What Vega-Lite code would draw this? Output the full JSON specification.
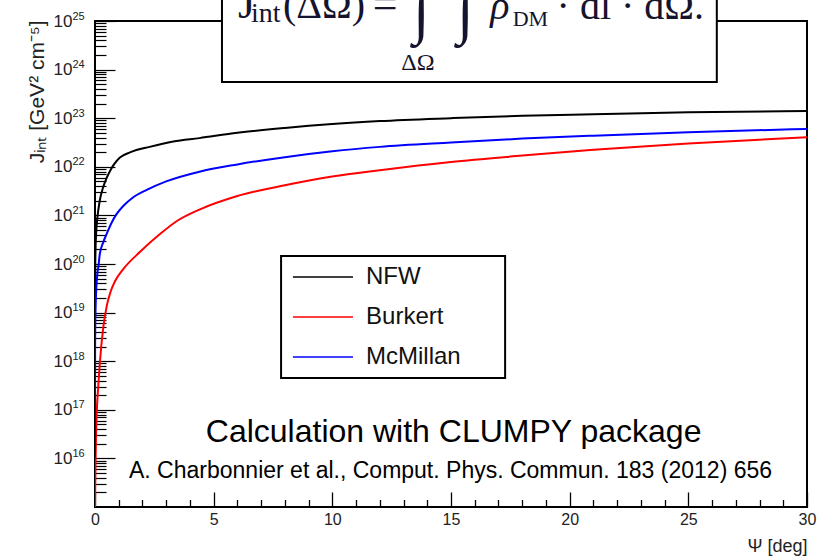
{
  "$schema": "https://vega.github.io/schema/vega-lite/v6.json",
  "width": 712,
  "height": 486,
  "autosize": {"type": "none"},
  "padding": {"left": 95, "top": 21, "right": 18, "bottom": 52},
  "background": "white",
  "config": {
    "view": {"stroke": "black", "strokeWidth": 2},
    "font": "Liberation Sans"
  },
  "resolve": {"axis": {"x": "independent", "y": "independent"}},
  "layer": [
    {
      "layer": [
        {
          "data": {"values": [
            {"profile":"NFW","psi":0.001,"J":7.94e18},
            {"profile":"NFW","psi":0.005,"J":3.98e19},
            {"profile":"NFW","psi":0.01,"J":8.91e19},
            {"profile":"NFW","psi":0.02,"J":1.78e20},
            {"profile":"NFW","psi":0.05,"J":4.47e20},
            {"profile":"NFW","psi":0.1,"J":8.91e20},
            {"profile":"NFW","psi":0.2,"J":2.0e21},
            {"profile":"NFW","psi":0.35,"J":3.89e21},
            {"profile":"NFW","psi":0.5,"J":6.03e21},
            {"profile":"NFW","psi":0.65,"J":8.51e21},
            {"profile":"NFW","psi":0.8,"J":1.12e22},
            {"profile":"NFW","psi":1.05,"J":1.55e22},
            {"profile":"NFW","psi":1.5,"J":2.0e22},
            {"profile":"NFW","psi":2.3,"J":2.57e22},
            {"profile":"NFW","psi":3.3,"J":3.31e22},
            {"profile":"NFW","psi":4.4,"J":3.89e22},
            {"profile":"NFW","psi":6,"J":5.01e22},
            {"profile":"NFW","psi":8,"J":6.31e22},
            {"profile":"NFW","psi":10,"J":7.59e22},
            {"profile":"NFW","psi":12,"J":8.71e22},
            {"profile":"NFW","psi":15,"J":1.0e23},
            {"profile":"NFW","psi":18,"J":1.12e23},
            {"profile":"NFW","psi":21,"J":1.2e23},
            {"profile":"NFW","psi":25,"J":1.32e23},
            {"profile":"NFW","psi":30,"J":1.41e23},
            {"profile":"Burkert","psi":0.0005,"J":1e15},
            {"profile":"Burkert","psi":0.02,"J":6.31e15},
            {"profile":"Burkert","psi":0.04,"J":2.51e16},
            {"profile":"Burkert","psi":0.07,"J":7.94e16},
            {"profile":"Burkert","psi":0.14,"J":3.16e17},
            {"profile":"Burkert","psi":0.21,"J":1e18},
            {"profile":"Burkert","psi":0.35,"J":5.01e18},
            {"profile":"Burkert","psi":0.5,"J":1.41e19},
            {"profile":"Burkert","psi":0.65,"J":2.63e19},
            {"profile":"Burkert","psi":0.85,"J":4.47e19},
            {"profile":"Burkert","psi":1.2,"J":7.94e19},
            {"profile":"Burkert","psi":1.9,"J":1.78e20},
            {"profile":"Burkert","psi":2.7,"J":3.98e20},
            {"profile":"Burkert","psi":3.5,"J":7.94e20},
            {"profile":"Burkert","psi":4.4,"J":1.32e21},
            {"profile":"Burkert","psi":6,"J":2.51e21},
            {"profile":"Burkert","psi":8,"J":4.17e21},
            {"profile":"Burkert","psi":10,"J":6.31e21},
            {"profile":"Burkert","psi":12,"J":8.51e21},
            {"profile":"Burkert","psi":15,"J":1.26e22},
            {"profile":"Burkert","psi":18,"J":1.7e22},
            {"profile":"Burkert","psi":21,"J":2.24e22},
            {"profile":"Burkert","psi":25,"J":3.02e22},
            {"profile":"Burkert","psi":30,"J":4.07e22},
            {"profile":"McMillan","psi":0.0005,"J":1e16},
            {"profile":"McMillan","psi":0.002,"J":3.16e17},
            {"profile":"McMillan","psi":0.005,"J":2.0e18},
            {"profile":"McMillan","psi":0.01,"J":5.01e18},
            {"profile":"McMillan","psi":0.02,"J":1e19},
            {"profile":"McMillan","psi":0.05,"J":2.82e19},
            {"profile":"McMillan","psi":0.1,"J":6.31e19},
            {"profile":"McMillan","psi":0.15,"J":9.33e19},
            {"profile":"McMillan","psi":0.2,"J":1.58e20},
            {"profile":"McMillan","psi":0.35,"J":2.82e20},
            {"profile":"McMillan","psi":0.5,"J":4.27e20},
            {"profile":"McMillan","psi":0.7,"J":7.08e20},
            {"profile":"McMillan","psi":0.9,"J":1.05e21},
            {"profile":"McMillan","psi":1.2,"J":1.58e21},
            {"profile":"McMillan","psi":1.6,"J":2.34e21},
            {"profile":"McMillan","psi":2.2,"J":3.39e21},
            {"profile":"McMillan","psi":3,"J":5.01e21},
            {"profile":"McMillan","psi":4.4,"J":7.94e21},
            {"profile":"McMillan","psi":6,"J":1.12e22},
            {"profile":"McMillan","psi":8,"J":1.58e22},
            {"profile":"McMillan","psi":10,"J":2.09e22},
            {"profile":"McMillan","psi":12,"J":2.57e22},
            {"profile":"McMillan","psi":15,"J":3.16e22},
            {"profile":"McMillan","psi":18,"J":3.8e22},
            {"profile":"McMillan","psi":21,"J":4.37e22},
            {"profile":"McMillan","psi":25,"J":5.13e22},
            {"profile":"McMillan","psi":30,"J":6.03e22}
          ]},
          "mark": {"type": "line", "strokeWidth": 2, "interpolate": "monotone", "clip": true},
          "encoding": {
            "x": {
              "field": "psi", "type": "quantitative",
              "scale": {"domain": [0, 30], "nice": false, "zero": false},
              "axis": {
                "orient": "bottom",
                "values": [0, 5, 10, 15, 20, 25, 30],
                "ticks": false,
                "grid": true, "gridColor": "#000000", "gridWidth": 1.3, "gridOpacity": 1,
                "gridDash": [15, 2000], "gridDashOffset": 1544,
                "domain": false,
                "labelFont": "Liberation Sans", "labelFontSize": 16, "labelColor": "#222",
                "labelPadding": 4, "labelFlush": false, "labelOverlap": false,
                "title": "Ψ [deg]", "titleFont": "Liberation Sans", "titleFontSize": 18, "titleFontWeight": "normal",
                "titleColor": "#222", "titleAnchor": "end", "titleAlign": "right", "titleBaseline": "middle",
                "titleX": 712, "titleY": 39
              }
            },
            "y": {
              "field": "J", "type": "quantitative",
              "scale": {"type": "log", "domain": [1e15, 1e25], "nice": false},
              "axis": {
                "orient": "left",
                "values": [2e15,3e15,4e15,5e15,6e15,7e15,8e15,9e15,
                  1e16,2e16,3e16,4e16,5e16,6e16,7e16,8e16,9e16,
                  1e17,2e17,3e17,4e17,5e17,6e17,7e17,8e17,9e17,
                  1e18,2e18,3e18,4e18,5e18,6e18,7e18,8e18,9e18,
                  1e19,2e19,3e19,4e19,5e19,6e19,7e19,8e19,9e19,
                  1e20,2e20,3e20,4e20,5e20,6e20,7e20,8e20,9e20,
                  1e21,2e21,3e21,4e21,5e21,6e21,7e21,8e21,9e21,
                  1e22,2e22,3e22,4e22,5e22,6e22,7e22,8e22,9e22,
                  1e23,2e23,3e23,4e23,5e23,6e23,7e23,8e23,9e23,
                  1e24,2e24,3e24,4e24,5e24,6e24,7e24,8e24,9e24,1e25],
                "labelExpr": "abs(log(datum.value)/LN10 - round(log(datum.value)/LN10)) < 1e-6 ? '10' : ''",
                "tickSize": {"condition": {"test": "abs(log(datum.value)/LN10 - round(log(datum.value)/LN10)) < 1e-6", "value": -20}, "value": -11},
                "tickColor": "black", "tickWidth": 1.2,
                "domain": false, "grid": false,
                "labelFont": "Liberation Sans", "labelFontSize": 17, "labelColor": "#222",
                "labelAlign": "right", "labelBaseline": "middle",
                "labelPadding": 43, "labelFlush": false, "labelOverlap": false,
                "title": "Jᵢₙₜ [GeV² cm⁻⁵]", "titleFont": "Liberation Sans", "titleFontSize": 21, "titleFontWeight": "normal",
                "titleColor": "#222", "titleAngle": -90, "titleAlign": "right", "titleBaseline": "middle",
                "titleX": -58, "titleY": -1
              }
            },
            "color": {
              "field": "profile", "type": "nominal",
              "scale": {"domain": ["NFW", "Burkert", "McMillan"], "range": ["#000000", "#ff0000", "#0000ff"]},
              "legend": null
            }
          }
        },
        {
          "data": {"values": [{}]},
          "mark": {"type": "rect", "fill": "white", "stroke": "black", "strokeWidth": 2},
          "encoding": {"x": {"datum": 7.84}, "x2": {"datum": 17.28}, "y": {"datum": 1.46e20}, "y2": {"datum": 4.51e17}}
        },
        {
          "data": {"values": [{}]},
          "mark": {"type": "rule", "stroke": "black", "strokeWidth": 1.5},
          "encoding": {"x": {"datum": 8.34}, "x2": {"datum": 10.87}, "y": {"datum": 5.41e19}}
        },
        {
          "data": {"values": [{}]},
          "mark": {"type": "rule", "stroke": "#ff0000", "strokeWidth": 1.5},
          "encoding": {"x": {"datum": 8.34}, "x2": {"datum": 10.87}, "y": {"datum": 8.11e18}}
        },
        {
          "data": {"values": [{}]},
          "mark": {"type": "rule", "stroke": "#0000ff", "strokeWidth": 1.5},
          "encoding": {"x": {"datum": 8.34}, "x2": {"datum": 10.87}, "y": {"datum": 1.22e18}}
        },
        {
          "data": {"values": [{}]},
          "mark": {"type": "text", "align": "left", "baseline": "middle", "font": "Liberation Sans", "fontSize": 24, "color": "#111"},
          "encoding": {"x": {"datum": 11.42}, "y": {"datum": 5.41e19}, "text": {"value": "NFW"}}
        },
        {
          "data": {"values": [{}]},
          "mark": {"type": "text", "align": "left", "baseline": "middle", "font": "Liberation Sans", "fontSize": 24, "color": "#111"},
          "encoding": {"x": {"datum": 11.42}, "y": {"datum": 8.11e18}, "text": {"value": "Burkert"}}
        },
        {
          "data": {"values": [{}]},
          "mark": {"type": "text", "align": "left", "baseline": "middle", "font": "Liberation Sans", "fontSize": 24, "color": "#111"},
          "encoding": {"x": {"datum": 11.42}, "y": {"datum": 1.22e18}, "text": {"value": "McMillan"}}
        },
        {
          "data": {"values": [{}]},
          "mark": {"type": "text", "align": "center", "baseline": "alphabetic", "font": "Liberation Sans", "fontSize": 32, "color": "#000"},
          "encoding": {"x": {"datum": 15.11}, "y": {"datum": 2.17e16}, "text": {"value": "Calculation with CLUMPY package"}}
        },
        {
          "data": {"values": [{}]},
          "mark": {"type": "text", "align": "center", "baseline": "alphabetic", "font": "Liberation Sans", "fontSize": 23, "color": "#000"},
          "encoding": {"x": {"datum": 14.98}, "y": {"datum": 3.95e15}, "text": {"value": "A. Charbonnier et al., Comput. Phys. Commun. 183 (2012) 656"}}
        },
        {
          "data": {"values": [{}]},
          "mark": {"type": "rect", "fill": "white", "stroke": "black", "strokeWidth": 2, "clip": false},
          "encoding": {"x": {"datum": 5.35}, "x2": {"datum": 26.2}, "y": {"datum": 1e27}, "y2": {"datum": 5.56e23}}
        },
        {
          "data": {"values": [{}]},
          "mark": {"type": "text", "align": "left", "baseline": "alphabetic", "font": "Liberation Serif", "fontSize": 44, "color": "#14142e"},
          "encoding": {"x": {"datum": 6.03}, "y": {"datum": 1.153e25}, "text": {"value": "J"}}
        },
        {
          "data": {"values": [{}]},
          "mark": {"type": "text", "align": "left", "baseline": "alphabetic", "font": "Liberation Serif", "fontSize": 28, "color": "#14142e"},
          "encoding": {"x": {"datum": 6.57}, "y": {"datum": 9.53e24}, "text": {"value": "int"}}
        },
        {
          "data": {"values": [{}]},
          "mark": {"type": "text", "align": "left", "baseline": "alphabetic", "font": "Liberation Serif", "fontSize": 40, "color": "#14142e"},
          "encoding": {"x": {"datum": 7.92}, "y": {"datum": 1.153e25}, "text": {"value": "(ΔΩ)"}}
        },
        {
          "data": {"values": [{}]},
          "mark": {"type": "text", "align": "left", "baseline": "alphabetic", "font": "Liberation Serif", "fontSize": 44, "color": "#14142e"},
          "encoding": {"x": {"datum": 11.7}, "y": {"datum": 1.153e25}, "text": {"value": "="}}
        },
        {
          "data": {"values": [{}]},
          "mark": {"type": "text", "align": "center", "baseline": "alphabetic", "font": "Liberation Serif", "fontSize": 60, "color": "#14142e"},
          "encoding": {"x": {"datum": 13.75}, "y": {"datum": 5.94e24}, "text": {"value": "∫"}}
        },
        {
          "data": {"values": [{}]},
          "mark": {"type": "text", "align": "center", "baseline": "alphabetic", "font": "Liberation Serif", "fontSize": 60, "color": "#14142e"},
          "encoding": {"x": {"datum": 15.6}, "y": {"datum": 5.94e24}, "text": {"value": "∫"}}
        },
        {
          "data": {"values": [{}]},
          "mark": {"type": "text", "align": "left", "baseline": "alphabetic", "font": "Liberation Serif", "fontSize": 40, "fontStyle": "italic", "color": "#14142e"},
          "encoding": {"x": {"datum": 16.65}, "y": {"datum": 1.1e25}, "text": {"value": "ρ"}}
        },
        {
          "data": {"values": [{}]},
          "mark": {"type": "text", "align": "left", "baseline": "alphabetic", "font": "Liberation Serif", "fontSize": 22, "color": "#14142e"},
          "encoding": {"x": {"datum": 17.6}, "y": {"datum": 7.89e24}, "text": {"value": "DM"}}
        },
        {
          "data": {"values": [{}]},
          "mark": {"type": "text", "align": "left", "baseline": "alphabetic", "font": "Liberation Serif", "fontSize": 40, "color": "#14142e"},
          "encoding": {"x": {"datum": 19.45}, "y": {"datum": 1.1e25}, "text": {"value": "· dl · dΩ."}}
        },
        {
          "data": {"values": [{}]},
          "mark": {"type": "text", "align": "center", "baseline": "alphabetic", "font": "Liberation Serif", "fontSize": 24, "color": "#14142e"},
          "encoding": {"x": {"datum": 13.61}, "y": {"datum": 9.82e23}, "text": {"value": "ΔΩ"}}
        }
      ]
    },
    {
      "data": {"values": [{}]},
      "mark": {"type": "text", "text": ""},
      "encoding": {
        "x": {
          "datum": 0,
          "axis": {
            "orient": "bottom",
            "values": [1,2,3,4,6,7,8,9,11,12,13,14,16,17,18,19,21,22,23,24,26,27,28,29],
            "ticks": false,
            "grid": true, "gridColor": "#000000", "gridWidth": 1.3, "gridOpacity": 1,
            "gridDash": [7.5, 2000], "gridDashOffset": 1529,
            "labels": false, "domain": false, "title": null
          }
        },
        "y": {
          "datum": 1e20,
          "axis": {
            "orient": "left",
            "values": [1e16,1e17,1e18,1e19,1e20,1e21,1e22,1e23,1e24,1e25],
            "labelExpr": "format(round(log(datum.value)/LN10), 'd')",
            "ticks": false, "domain": false, "grid": false,
            "labelFont": "Liberation Sans", "labelFontSize": 11, "labelColor": "#222",
            "labelAlign": "left", "labelBaseline": "middle",
            "labelPadding": 23, "labelOffset": -5, "labelFlush": false, "labelOverlap": false,
            "title": null
          }
        }
      }
    }
  ]
}
